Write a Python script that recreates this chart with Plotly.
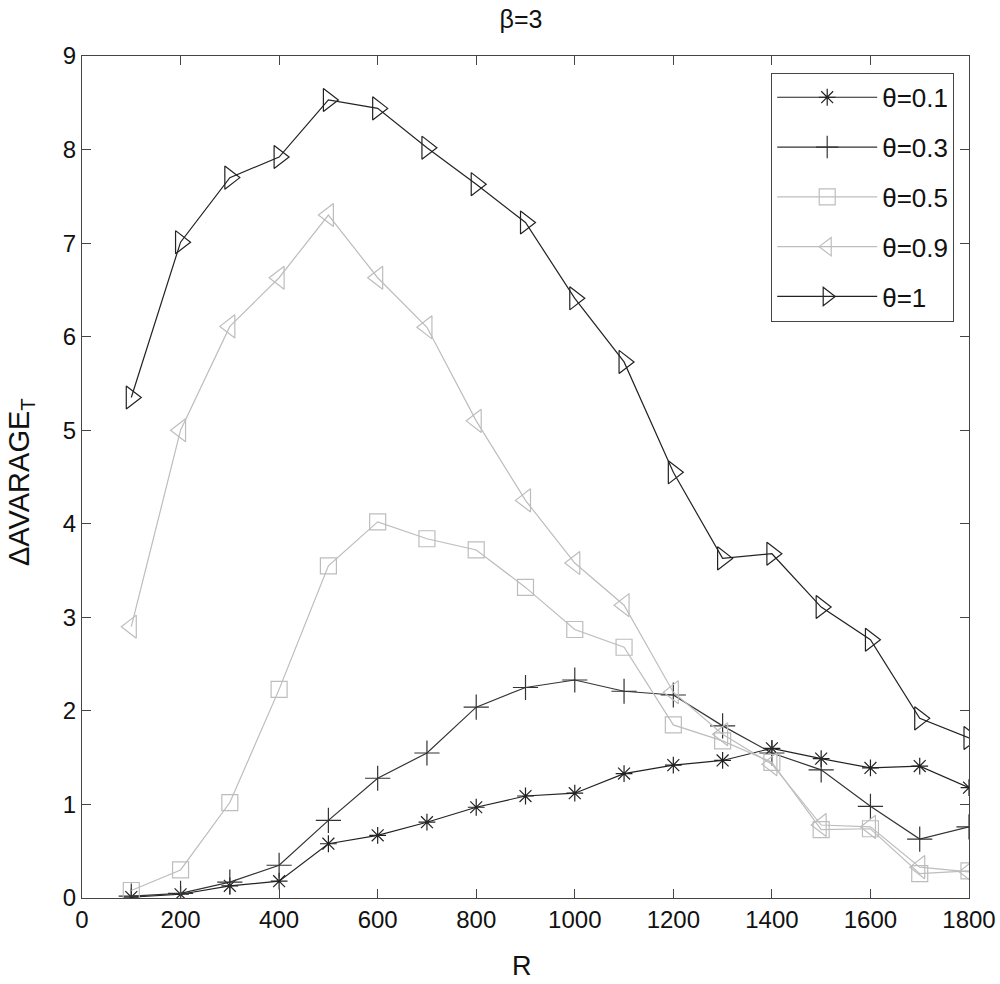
import plotly.graph_objects as go

R = [100, 200, 300, 400, 500, 600, 700, 800, 900, 1000, 1100, 1200, 1300, 1400, 1500, 1600, 1700, 1800]
theta_01 = [0.01, 0.04, 0.13, 0.18, 0.58, 0.67, 0.81, 0.97, 1.09, 1.12, 1.33, 1.42, 1.47, 1.60, 1.49, 1.39, 1.41, 1.18]
theta_03 = [0.02, 0.05, 0.17, 0.35, 0.83, 1.28, 1.55, 2.04, 2.25, 2.33, 2.21, 2.17, 1.84, 1.55, 1.37, 0.98, 0.63, 0.76]
theta_05 = [0.08, 0.30, 1.02, 2.23, 3.55, 4.02, 3.84, 3.72, 3.32, 2.87, 2.68, 1.85, 1.68, 1.45, 0.73, 0.74, 0.26, 0.29]
theta_09 = [2.90, 5.00, 6.11, 6.63, 7.30, 6.63, 6.10, 5.10, 4.25, 3.58, 3.13, 2.20, 1.75, 1.43, 0.78, 0.76, 0.33, 0.28]
theta_1 = [5.35, 7.01, 7.70, 7.92, 8.53, 8.44, 8.02, 7.63, 7.22, 6.41, 5.73, 4.55, 3.63, 3.68, 3.11, 2.76, 1.92, 1.71]

series = [
    ("θ=0.1", theta_01, "asterisk-open", "#222222", 14),
    ("θ=0.3", theta_03, "cross-thin-open", "#333333", 18),
    ("θ=0.5", theta_05, "square-open", "#bdbdbd", 16),
    ("θ=0.9", theta_09, "triangle-left-open", "#bdbdbd", 20),
    ("θ=1", theta_1, "triangle-right-open", "#222222", 20),
]

fig = go.Figure()
for i, (name, ys, sym, col, sz) in enumerate(series):
    fig.add_trace(go.Scatter(
        x=R, y=ys, name=name, mode="lines+markers",
        line=dict(color=col, width=1.2),
        marker=dict(symbol=sym, size=sz, color=col, line=dict(color=col, width=1.2)),
        legendgroup=f"g{i}",
    ))

font_family = "Liberation Sans, Arial, sans-serif"
txt = "#111111"
axis_common = dict(
    showline=True, linecolor="#444444", linewidth=1, mirror="ticks",
    ticks="inside", ticklen=9, tickcolor="#444444", showgrid=False, zeroline=False,
    automargin=False,
    tickfont=dict(family=font_family, size=24, color=txt),
)

fig.update_layout(
    width=1000, height=984,
    margin=dict(l=82, r=31, t=56, b=86, autoexpand=False),
    paper_bgcolor="white", plot_bgcolor="white",
    title=dict(text="β=3", x=0.521, xanchor="center", y=1 - 19 / 984, yanchor="middle",
               font=dict(family=font_family, size=25, color=txt)),
    xaxis=dict(range=[0, 1800], dtick=200, tick0=0, **axis_common),
    yaxis=dict(range=[0, 9], dtick=1, tick0=0, **axis_common),
    legend=dict(x=0.777, xanchor="left", y=0.98, yanchor="top",
                bgcolor="white", bordercolor="#444444", borderwidth=1,
                font=dict(family=font_family, size=26, color=txt),
                itemwidth=100, tracegroupgap=13),
    showlegend=True,
    annotations=[
        dict(text="ΔAVARAGE<sub>T</sub>", xref="paper", yref="paper",
             x=(21 - 82) / 887, y=(898 - 482) / 842, xanchor="center", yanchor="middle",
             textangle=-90, showarrow=False,
             font=dict(family=font_family, size=29, color=txt)),
        dict(text="R", xref="paper", yref="paper",
             x=(522 - 82) / 887, y=(898 - 966) / 842, xanchor="center", yanchor="middle",
             showarrow=False, font=dict(family=font_family, size=27, color=txt)),
    ],
)

fig.write_html("out.html")
